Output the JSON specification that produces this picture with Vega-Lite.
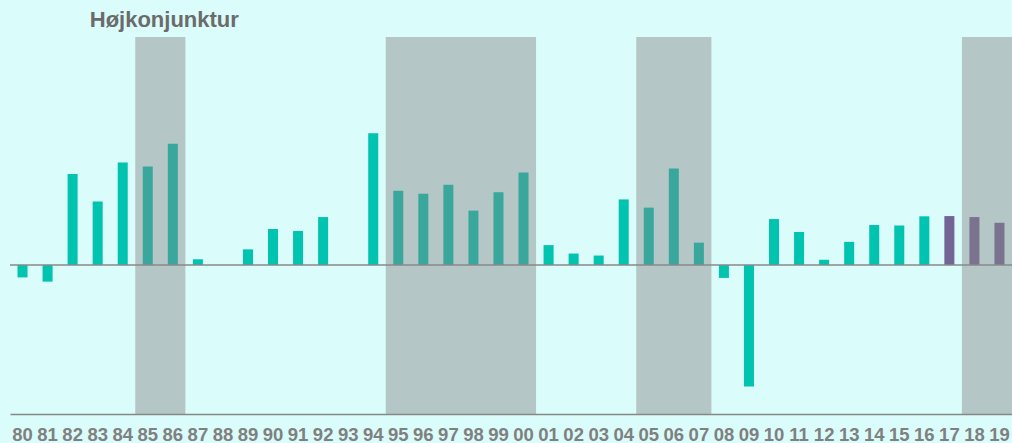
{
  "$schema": "https://vega.github.io/schema/vega-lite/v6.json",
  "width": 1002,
  "height": 377,
  "autosize": {"type": "none"},
  "padding": {"left": 10, "top": 37, "right": 0, "bottom": 29},
  "background": "#dafcfa",
  "config": {"view": {"stroke": null}, "font": "Liberation Sans"},
  "datasets": {
    "growth": [
      {"year": "80", "value": -0.5, "type": "Faktisk"},
      {"year": "81", "value": -0.67, "type": "Faktisk"},
      {"year": "82", "value": 3.66, "type": "Faktisk"},
      {"year": "83", "value": 2.56, "type": "Faktisk"},
      {"year": "84", "value": 4.13, "type": "Faktisk"},
      {"year": "85", "value": 3.97, "type": "Faktisk"},
      {"year": "86", "value": 4.88, "type": "Faktisk"},
      {"year": "87", "value": 0.23, "type": "Faktisk"},
      {"year": "88", "value": 0, "type": "Faktisk"},
      {"year": "89", "value": 0.63, "type": "Faktisk"},
      {"year": "90", "value": 1.45, "type": "Faktisk"},
      {"year": "91", "value": 1.37, "type": "Faktisk"},
      {"year": "92", "value": 1.93, "type": "Faktisk"},
      {"year": "93", "value": 0, "type": "Faktisk"},
      {"year": "94", "value": 5.3, "type": "Faktisk"},
      {"year": "95", "value": 2.99, "type": "Faktisk"},
      {"year": "96", "value": 2.87, "type": "Faktisk"},
      {"year": "97", "value": 3.23, "type": "Faktisk"},
      {"year": "98", "value": 2.19, "type": "Faktisk"},
      {"year": "99", "value": 2.93, "type": "Faktisk"},
      {"year": "00", "value": 3.72, "type": "Faktisk"},
      {"year": "01", "value": 0.8, "type": "Faktisk"},
      {"year": "02", "value": 0.46, "type": "Faktisk"},
      {"year": "03", "value": 0.38, "type": "Faktisk"},
      {"year": "04", "value": 2.64, "type": "Faktisk"},
      {"year": "05", "value": 2.31, "type": "Faktisk"},
      {"year": "06", "value": 3.89, "type": "Faktisk"},
      {"year": "07", "value": 0.9, "type": "Faktisk"},
      {"year": "08", "value": -0.52, "type": "Faktisk"},
      {"year": "09", "value": -4.89, "type": "Faktisk"},
      {"year": "10", "value": 1.85, "type": "Faktisk"},
      {"year": "11", "value": 1.33, "type": "Faktisk"},
      {"year": "12", "value": 0.21, "type": "Faktisk"},
      {"year": "13", "value": 0.93, "type": "Faktisk"},
      {"year": "14", "value": 1.61, "type": "Faktisk"},
      {"year": "15", "value": 1.59, "type": "Faktisk"},
      {"year": "16", "value": 1.96, "type": "Faktisk"},
      {"year": "17", "value": 1.97, "type": "Prognose"},
      {"year": "18", "value": 1.93, "type": "Prognose"},
      {"year": "19", "value": 1.7, "type": "Prognose"}
    ],
    "booms": [
      {"start": "85", "end": "86"},
      {"start": "95", "end": "00"},
      {"start": "05", "end": "07"},
      {"start": "18", "end": "19"}
    ],
    "label": [{"text": "Højkonjunktur", "year": "85"}],
    "zero": [{"value": 0}]
  },
  "layer": [
    {
      "data": {"name": "growth"},
      "mark": {"type": "bar", "width": {"band": 0.4}},
      "encoding": {
        "x": {
          "field": "year",
          "type": "ordinal",
          "title": null,
          "scale": {
            "domain": ["80","81","82","83","84","85","86","87","88","89","90","91","92","93","94","95","96","97","98","99","00","01","02","03","04","05","06","07","08","09","10","11","12","13","14","15","16","17","18","19"],
            "paddingInner": 0,
            "paddingOuter": 0
          },
          "axis": {
            "title": null,
            "labelAngle": 0,
            "labelFont": "Liberation Sans",
            "labelFontSize": 18.5,
            "labelFontWeight": "bold",
            "labelColor": "#808080",
            "labelPadding": 11,
            "ticks": false,
            "domainColor": "#888888",
            "domainWidth": 1.5,
            "grid": false
          }
        },
        "y": {
          "field": "value",
          "type": "quantitative",
          "scale": {"domain": [-6, 9.18], "nice": false, "zero": false},
          "axis": null
        },
        "color": {
          "field": "type",
          "type": "nominal",
          "scale": {"domain": ["Faktisk", "Prognose"], "range": ["#00c3b0", "#736496"]},
          "legend": null
        }
      }
    },
    {
      "data": {"name": "booms"},
      "mark": {"type": "rect", "color": "#858585", "opacity": 0.44},
      "encoding": {
        "x": {"field": "start", "type": "ordinal", "bandPosition": 0, "title": null},
        "x2": {"field": "end", "bandPosition": 1},
        "y": {"datum": 9.18, "type": "quantitative"},
        "y2": {"datum": -6}
      }
    },
    {
      "data": {"name": "zero"},
      "mark": {"type": "rule", "color": "#888888", "strokeWidth": 1.5},
      "encoding": {"y": {"field": "value", "type": "quantitative"}}
    },
    {
      "data": {"name": "label"},
      "mark": {"type": "text", "font": "Liberation Sans", "fontSize": 22, "fontWeight": "bold", "color": "#6b6b6b", "baseline": "alphabetic", "align": "center", "dy": -10, "dx": 4},
      "encoding": {
        "x": {"field": "year", "type": "ordinal", "bandPosition": 1, "title": null},
        "y": {"datum": 9.18, "type": "quantitative"},
        "text": {"field": "text"}
      }
    }
  ]
}
